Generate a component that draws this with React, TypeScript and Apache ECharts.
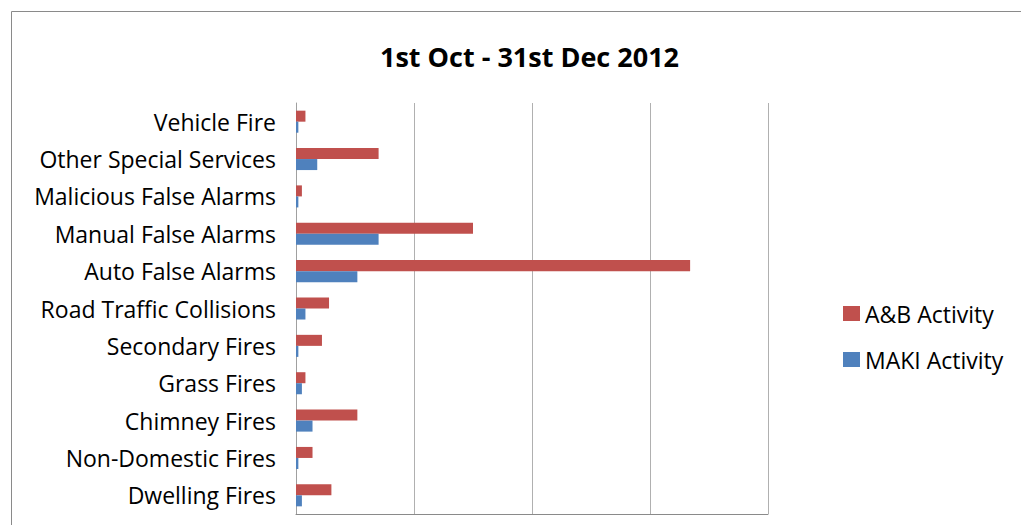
import React, { useEffect, useRef } from "react";
import * as echarts from "echarts";

const categories = [
  "Dwelling Fires",
  "Non-Domestic Fires",
  "Chimney Fires",
  "Grass Fires",
  "Secondary Fires",
  "Road Traffic Collisions",
  "Auto False Alarms",
  "Manual False Alarms",
  "Malicious False Alarms",
  "Other Special Services",
  "Vehicle Fire",
];

const abActivity = [15, 7, 26, 4, 11, 14, 167, 75, 2.5, 35, 4];
const makiActivity = [2.5, 1, 7, 2.5, 1, 4, 26, 35, 1, 9, 1];

const titleText = "1st Oct - 31st Dec 2012";
const seriesNames = ["A&B Activity", "MAKI Activity"];

export default function App() {
  const ref = useRef<HTMLDivElement>(null);
  useEffect(() => {
    document.body.style.margin = "0";
    const chart = echarts.init(ref.current!, null, { renderer: "svg" });
    const font = "'Open Sans', sans-serif";
    chart.setOption({
      animation: false,
      backgroundColor: "#fff",
      textStyle: { fontFamily: font },
      title: {
        text: titleText,
        left: 375,
        top: 38,
        textStyle: { fontSize: 27, fontWeight: "bold", color: "#000", fontFamily: font },
      },
      graphic: [
        {
          type: "rect",
          shape: { x: 11.5, y: 11.5, width: 1030, height: 530 },
          style: { fill: "none", stroke: "#8a8a8a", lineWidth: 1 },
          silent: true,
        },
      ],
      legend: {
        data: seriesNames,
        orient: "vertical",
        left: 838,
        top: 297,
        itemWidth: 17,
        itemHeight: 15,
        itemGap: 23,
        icon: "rect",
        textStyle: { fontSize: 23, color: "#000", fontFamily: font },
      },
      grid: { left: 296, right: 253, top: 103, bottom: 11, containLabel: false },
      xAxis: {
        type: "value",
        min: 0,
        max: 200,
        interval: 50,
        axisLabel: { show: false },
        axisTick: { show: false },
        axisLine: { show: true, lineStyle: { color: "#8a8a8a", width: 1 } },
        splitLine: { show: true, lineStyle: { color: "#b0b0b0", width: 1 } },
      },
      yAxis: {
        type: "category",
        data: categories,
        axisTick: { show: false },
        axisLine: { show: true, lineStyle: { color: "#a0a0a0", width: 1 } },
        axisLabel: { fontSize: 23, color: "#000", margin: 20, fontFamily: font },
      },
      series: [
        {
          name: seriesNames[0],
          type: "bar",
          data: abActivity,
          itemStyle: { color: "#C0504D" },
          barGap: "0%",
          barCategoryGap: "41%",
        },
        {
          name: seriesNames[1],
          type: "bar",
          data: makiActivity,
          itemStyle: { color: "#4F81BD" },
          barGap: "0%",
          barCategoryGap: "41%",
        },
      ],
    });
    return () => chart.dispose();
  }, []);
  return (
    <div
      ref={ref}
      style={{ position: "absolute", left: 0, top: 0, width: 1021, height: 525 }}
    />
  );
}
